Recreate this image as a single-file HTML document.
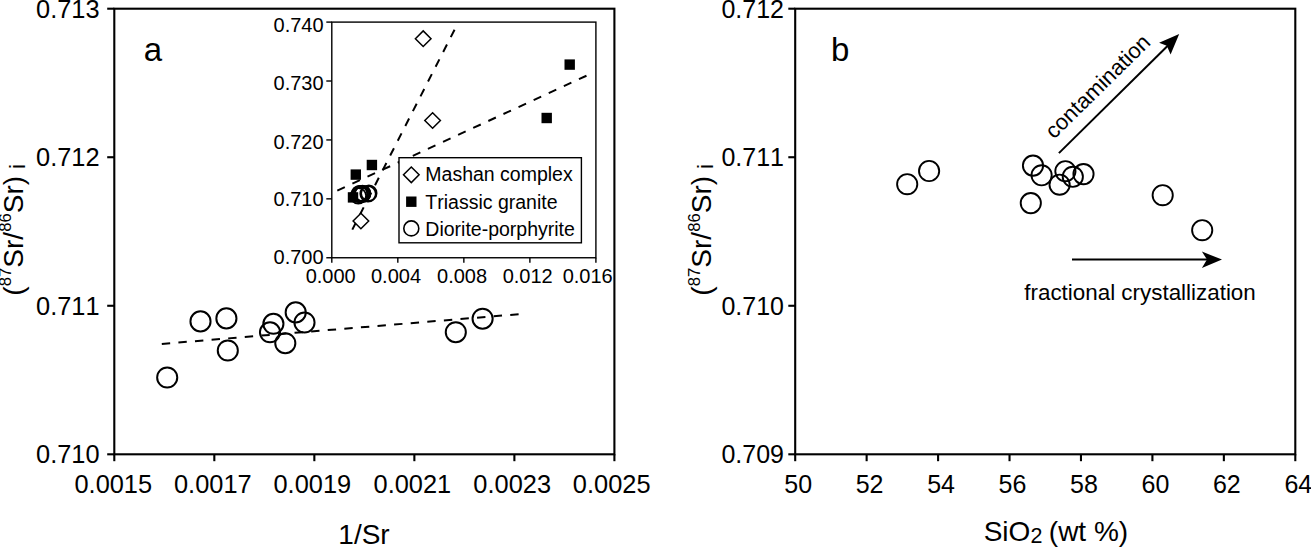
<!DOCTYPE html><html><head><meta charset="utf-8"><style>html,body{margin:0;padding:0;background:#fff;}svg{display:block;}text{font-family:"Liberation Sans", sans-serif;fill:#000;font-kerning:none;}</style></head><body>
<svg width="1311" height="547" viewBox="0 0 1311 547">
<rect x="0" y="0" width="1311" height="547" fill="#fff"/>
<rect x="114.3" y="8.7" width="500.10" height="445.60" fill="none" stroke="#000" stroke-width="2.1"/>
<line x1="107.20" y1="8.70" x2="114.30" y2="8.70" stroke="#000" stroke-width="2.1" />
<text x="99.60" y="17.50" font-size="25.4" text-anchor="end" >0.713</text>
<line x1="107.20" y1="157.23" x2="114.30" y2="157.23" stroke="#000" stroke-width="2.1" />
<text x="99.60" y="166.03" font-size="25.4" text-anchor="end" >0.712</text>
<line x1="107.20" y1="305.77" x2="114.30" y2="305.77" stroke="#000" stroke-width="2.1" />
<text x="99.60" y="314.57" font-size="25.4" text-anchor="end" >0.711</text>
<line x1="107.20" y1="454.30" x2="114.30" y2="454.30" stroke="#000" stroke-width="2.1" />
<text x="99.60" y="463.10" font-size="25.4" text-anchor="end" >0.710</text>
<line x1="114.30" y1="454.30" x2="114.30" y2="461.20" stroke="#000" stroke-width="2.1" />
<text x="113.30" y="492.60" font-size="25.4" text-anchor="middle" >0.0015</text>
<line x1="214.32" y1="454.30" x2="214.32" y2="461.20" stroke="#000" stroke-width="2.1" />
<text x="212.82" y="492.60" font-size="25.4" text-anchor="middle" >0.0017</text>
<line x1="314.34" y1="454.30" x2="314.34" y2="461.20" stroke="#000" stroke-width="2.1" />
<text x="312.34" y="492.60" font-size="25.4" text-anchor="middle" >0.0019</text>
<line x1="414.36" y1="454.30" x2="414.36" y2="461.20" stroke="#000" stroke-width="2.1" />
<text x="412.36" y="492.60" font-size="25.4" text-anchor="middle" >0.0021</text>
<line x1="514.38" y1="454.30" x2="514.38" y2="461.20" stroke="#000" stroke-width="2.1" />
<text x="512.18" y="492.60" font-size="25.4" text-anchor="middle" >0.0023</text>
<line x1="614.40" y1="454.30" x2="614.40" y2="461.20" stroke="#000" stroke-width="2.1" />
<text x="611.70" y="492.60" font-size="25.4" text-anchor="middle" >0.0025</text>
<text x="364.00" y="543.60" font-size="28" text-anchor="middle" >1/Sr</text>
<text x="143.80" y="61.00" font-size="33" text-anchor="start" >a</text>
<text x="22.7" y="229.9" font-size="28" text-anchor="middle" transform="rotate(-90 22.7 229.9)">(<tspan font-size="16.8" dy="-11.3">87</tspan><tspan dy="11.3">Sr/</tspan><tspan font-size="16.8" dy="-11.3">86</tspan><tspan dy="11.3">Sr)</tspan><tspan font-size="22" dy="2" dx="0.7"> i</tspan></text>
<line x1="161.8" y1="343.9" x2="518.8" y2="314.2" stroke="#000" stroke-width="2" stroke-dasharray="8.4 8.25"/>
<circle cx="167.2" cy="377.5" r="10.05" fill="none" stroke="#000" stroke-width="2"/>
<circle cx="200.5" cy="321.4" r="10.05" fill="none" stroke="#000" stroke-width="2"/>
<circle cx="226.4" cy="318.4" r="10.05" fill="none" stroke="#000" stroke-width="2"/>
<circle cx="227.8" cy="350.5" r="10.05" fill="none" stroke="#000" stroke-width="2"/>
<circle cx="273.4" cy="323.8" r="10.05" fill="none" stroke="#000" stroke-width="2"/>
<circle cx="270" cy="332.3" r="10.05" fill="none" stroke="#000" stroke-width="2"/>
<circle cx="285.3" cy="343.2" r="10.05" fill="none" stroke="#000" stroke-width="2"/>
<circle cx="295.7" cy="312.4" r="10.05" fill="none" stroke="#000" stroke-width="2"/>
<circle cx="304.5" cy="322.5" r="10.05" fill="none" stroke="#000" stroke-width="2"/>
<circle cx="455.8" cy="332.2" r="10.05" fill="none" stroke="#000" stroke-width="2"/>
<circle cx="482.6" cy="318.7" r="10.05" fill="none" stroke="#000" stroke-width="2"/>
<rect x="331.8" y="22.1" width="264.10" height="235.65" fill="none" stroke="#000" stroke-width="1.4"/>
<line x1="326.30" y1="22.10" x2="331.80" y2="22.10" stroke="#000" stroke-width="1.4" />
<text x="323.60" y="31.80" font-size="20" text-anchor="end" >0.740</text>
<line x1="326.30" y1="81.01" x2="331.80" y2="81.01" stroke="#000" stroke-width="1.4" />
<text x="323.60" y="89.60" font-size="20" text-anchor="end" >0.730</text>
<line x1="326.30" y1="139.93" x2="331.80" y2="139.93" stroke="#000" stroke-width="1.4" />
<text x="323.60" y="148.50" font-size="20" text-anchor="end" >0.720</text>
<line x1="326.30" y1="198.84" x2="331.80" y2="198.84" stroke="#000" stroke-width="1.4" />
<text x="323.60" y="205.70" font-size="20" text-anchor="end" >0.710</text>
<line x1="326.30" y1="257.75" x2="331.80" y2="257.75" stroke="#000" stroke-width="1.4" />
<text x="323.60" y="263.80" font-size="20" text-anchor="end" >0.700</text>
<line x1="331.80" y1="257.75" x2="331.80" y2="262.80" stroke="#000" stroke-width="1.4" />
<text x="330.70" y="283.40" font-size="20" text-anchor="middle" >0.000</text>
<line x1="397.82" y1="257.75" x2="397.82" y2="262.80" stroke="#000" stroke-width="1.4" />
<text x="396.00" y="283.40" font-size="20" text-anchor="middle" >0.004</text>
<line x1="463.85" y1="257.75" x2="463.85" y2="262.80" stroke="#000" stroke-width="1.4" />
<text x="462.10" y="283.40" font-size="20" text-anchor="middle" >0.008</text>
<line x1="529.88" y1="257.75" x2="529.88" y2="262.80" stroke="#000" stroke-width="1.4" />
<text x="527.70" y="283.40" font-size="20" text-anchor="middle" >0.012</text>
<line x1="595.90" y1="257.75" x2="595.90" y2="262.80" stroke="#000" stroke-width="1.4" />
<text x="587.70" y="283.40" font-size="20" text-anchor="middle" >0.016</text>
<line x1="352.3" y1="229.6" x2="458.4" y2="22.2" stroke="#000" stroke-width="2" stroke-dasharray="8.3 8.33"/>
<line x1="337.3" y1="190.6" x2="587.0" y2="75.5" stroke="#000" stroke-width="2" stroke-dasharray="8.3 8.33"/>
<rect x="350.60" y="169.40" width="10.4" height="10.4" fill="#000"/>
<rect x="366.70" y="159.80" width="10.4" height="10.4" fill="#000"/>
<rect x="347.80" y="192.20" width="10.4" height="10.4" fill="#000"/>
<rect x="541.50" y="112.80" width="10.4" height="10.4" fill="#000"/>
<rect x="564.50" y="59.40" width="10.4" height="10.4" fill="#000"/>
<circle cx="358.3" cy="195.8" r="7.75" fill="none" stroke="#000" stroke-width="1.7"/>
<circle cx="359.4" cy="193.6" r="7.75" fill="none" stroke="#000" stroke-width="1.7"/>
<circle cx="360.3" cy="193.5" r="7.75" fill="none" stroke="#000" stroke-width="1.7"/>
<circle cx="360.3" cy="194.7" r="7.75" fill="none" stroke="#000" stroke-width="1.7"/>
<circle cx="361.8" cy="193.7" r="7.75" fill="none" stroke="#000" stroke-width="1.7"/>
<circle cx="361.7" cy="194.0" r="7.75" fill="none" stroke="#000" stroke-width="1.7"/>
<circle cx="362.2" cy="194.5" r="7.75" fill="none" stroke="#000" stroke-width="1.7"/>
<circle cx="362.5" cy="193.3" r="7.75" fill="none" stroke="#000" stroke-width="1.7"/>
<circle cx="362.8" cy="193.7" r="7.75" fill="none" stroke="#000" stroke-width="1.7"/>
<circle cx="368.0" cy="193.8" r="7.75" fill="none" stroke="#000" stroke-width="1.7"/>
<circle cx="368.9" cy="193.2" r="7.75" fill="none" stroke="#000" stroke-width="1.7"/>
<path d="M423.20 30.90 L431.00 38.70 L423.20 46.50 L415.40 38.70 Z" fill="#fff" stroke="#000" stroke-width="1.5" stroke-linejoin="miter"/>
<path d="M432.60 112.70 L440.40 120.50 L432.60 128.30 L424.80 120.50 Z" fill="#fff" stroke="#000" stroke-width="1.5" stroke-linejoin="miter"/>
<path d="M360.90 213.20 L368.70 221.00 L360.90 228.80 L353.10 221.00 Z" fill="#fff" stroke="#000" stroke-width="1.5" stroke-linejoin="miter"/>
<rect x="399" y="157.7" width="182.4" height="85.1" fill="#fff" stroke="#000" stroke-width="1.4"/>
<path d="M411.30 167.00 L419.10 174.80 L411.30 182.60 L403.50 174.80 Z" fill="#fff" stroke="#000" stroke-width="1.5" stroke-linejoin="miter"/>
<rect x="406.1" y="196.5" width="10.4" height="10.4" fill="#000"/>
<circle cx="411.3" cy="228.4" r="7.5" fill="none" stroke="#000" stroke-width="1.6"/>
<text x="425.30" y="181.40" font-size="19.5" text-anchor="start" >Mashan complex</text>
<text x="425.30" y="208.80" font-size="19.5" text-anchor="start" >Triassic granite</text>
<text x="425.30" y="236.20" font-size="19.5" text-anchor="start" >Diorite-porphyrite</text>
<rect x="795.2" y="8.7" width="500.10" height="445.60" fill="none" stroke="#000" stroke-width="2.1"/>
<line x1="788.30" y1="8.70" x2="795.20" y2="8.70" stroke="#000" stroke-width="2.1" />
<text x="784.00" y="17.50" font-size="25" text-anchor="end" >0.712</text>
<line x1="788.30" y1="157.23" x2="795.20" y2="157.23" stroke="#000" stroke-width="2.1" />
<text x="784.00" y="166.03" font-size="25" text-anchor="end" >0.711</text>
<line x1="788.30" y1="305.77" x2="795.20" y2="305.77" stroke="#000" stroke-width="2.1" />
<text x="784.00" y="314.57" font-size="25" text-anchor="end" >0.710</text>
<line x1="788.30" y1="454.30" x2="795.20" y2="454.30" stroke="#000" stroke-width="2.1" />
<text x="784.00" y="463.10" font-size="25" text-anchor="end" >0.709</text>
<line x1="795.20" y1="454.30" x2="795.20" y2="461.20" stroke="#000" stroke-width="2.1" />
<text x="798.20" y="492.60" font-size="25" text-anchor="middle" >50</text>
<line x1="866.64" y1="454.30" x2="866.64" y2="461.20" stroke="#000" stroke-width="2.1" />
<text x="869.64" y="492.60" font-size="25" text-anchor="middle" >52</text>
<line x1="938.09" y1="454.30" x2="938.09" y2="461.20" stroke="#000" stroke-width="2.1" />
<text x="941.09" y="492.60" font-size="25" text-anchor="middle" >54</text>
<line x1="1009.53" y1="454.30" x2="1009.53" y2="461.20" stroke="#000" stroke-width="2.1" />
<text x="1012.53" y="492.60" font-size="25" text-anchor="middle" >56</text>
<line x1="1080.97" y1="454.30" x2="1080.97" y2="461.20" stroke="#000" stroke-width="2.1" />
<text x="1083.97" y="492.60" font-size="25" text-anchor="middle" >58</text>
<line x1="1152.41" y1="454.30" x2="1152.41" y2="461.20" stroke="#000" stroke-width="2.1" />
<text x="1155.41" y="492.60" font-size="25" text-anchor="middle" >60</text>
<line x1="1223.86" y1="454.30" x2="1223.86" y2="461.20" stroke="#000" stroke-width="2.1" />
<text x="1226.86" y="492.60" font-size="25" text-anchor="middle" >62</text>
<line x1="1295.30" y1="454.30" x2="1295.30" y2="461.20" stroke="#000" stroke-width="2.1" />
<text x="1298.30" y="492.60" font-size="25" text-anchor="middle" >64</text>
<text x="983.7" y="540.9" font-size="28">SiO<tspan font-size="21.5" dy="2.4">2</tspan><tspan dy="-2.4" dx="-1.3"> (wt %)</tspan></text>
<text x="831.00" y="61.00" font-size="33" text-anchor="start" >b</text>
<text x="710.9" y="229.9" font-size="28" text-anchor="middle" transform="rotate(-90 710.9 229.9)">(<tspan font-size="16.8" dy="-11.3">87</tspan><tspan dy="11.3">Sr/</tspan><tspan font-size="16.8" dy="-11.3">86</tspan><tspan dy="11.3">Sr)</tspan><tspan font-size="22" dy="2" dx="0.7"> i</tspan></text>
<circle cx="907.2" cy="184.2" r="10.1" fill="none" stroke="#000" stroke-width="1.9"/>
<circle cx="929.1" cy="171.0" r="10.1" fill="none" stroke="#000" stroke-width="1.9"/>
<circle cx="1033" cy="165.6" r="10.1" fill="none" stroke="#000" stroke-width="1.9"/>
<circle cx="1041.6" cy="175.3" r="10.1" fill="none" stroke="#000" stroke-width="1.9"/>
<circle cx="1030.8" cy="203.1" r="10.1" fill="none" stroke="#000" stroke-width="1.9"/>
<circle cx="1059.6" cy="184.7" r="10.1" fill="none" stroke="#000" stroke-width="1.9"/>
<circle cx="1065.4" cy="171.2" r="10.1" fill="none" stroke="#000" stroke-width="1.9"/>
<circle cx="1072.8" cy="176.8" r="10.1" fill="none" stroke="#000" stroke-width="1.9"/>
<circle cx="1083.5" cy="174.1" r="10.1" fill="none" stroke="#000" stroke-width="1.9"/>
<circle cx="1162.7" cy="195.2" r="10.1" fill="none" stroke="#000" stroke-width="1.9"/>
<circle cx="1202.2" cy="230.2" r="10.1" fill="none" stroke="#000" stroke-width="1.9"/>
<line x1="1058.9" y1="153.1" x2="1168" y2="45.5" stroke="#000" stroke-width="2"/>
<path d="M1179.2 34 L1159.1 42.8 L1166.8 45.8 L1170.6 54.6 Z" fill="#000"/>
<text x="1054" y="139.7" font-size="22" transform="rotate(-44.5 1054 139.7)">contamination</text>
<line x1="1072" y1="259.6" x2="1208" y2="259.6" stroke="#000" stroke-width="2"/>
<path d="M1222 259.6 L1201.9 251.6 L1207 259.6 L1201.9 268 Z" fill="#000"/>
<text x="1024.30" y="299.90" font-size="22.4" text-anchor="start" >fractional crystallization</text>
</svg></body></html>
